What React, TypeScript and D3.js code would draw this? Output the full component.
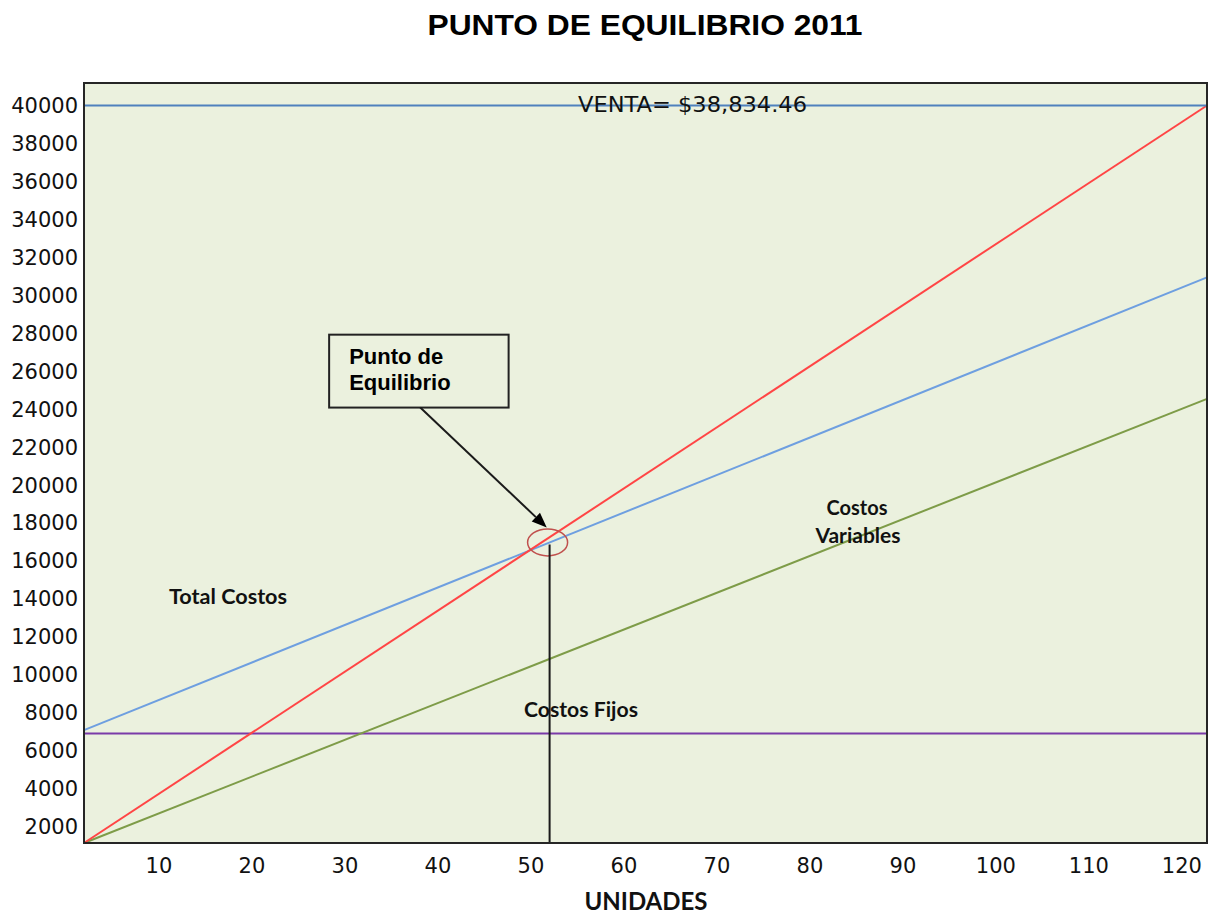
import React from "react";
import * as d3 from "d3";

// ---- data ----
const unidades = [1.94, 122.7];            // x extent where the lines run
const ventas = [1132, 40000];               // red
const costosTotales = [7079, 30937];        // blue
const costosVariables = [1132, 24537];      // green
const costosFijos = 6905;                   // purple horizontal
const ventaTotal = 40000;                   // steel-blue horizontal
const equilibrio = { unidades: 51.9, valor: 16974 };
const yTicks = [2000, 4000, 6000, 8000, 10000, 12000, 14000, 16000, 18000, 20000, 22000, 24000, 26000, 28000, 30000, 32000, 34000, 36000, 38000, 40000];
const xTicks = [10, 20, 30, 40, 50, 60, 70, 80, 90, 100, 110, 120];
const xDomain = [1.94, 122.7];
const yDomain = [1132, 41184];

const W = 1210, H = 915;
const M = { left: 84, right: 1207, top: 83, bottom: 843 };

export default function App() {
  const x = d3.scaleLinear().domain(xDomain).range([M.left, M.right]);
  const y = d3.scaleLinear().domain(yDomain).range([M.bottom, M.top]);
  const line = d3.line<[number, number]>().x(d => x(d[0])).y(d => y(d[1]));
  const pts = (vals: number[]) => unidades.map((u, i) => [u, vals[i]] as [number, number]);

  const ex = x(equilibrio.unidades), ey = y(equilibrio.valor);
  // annotation box in data coords
  const box = { x0: 28.3, y0: 27921, x1: 47.6, y1: 24079 };
  const arrow = { u0: 38.1, v0: 24079, u1: 51.7, v1: 17763 };
  const ax0 = x(arrow.u0), ay0 = y(arrow.v0), ax1 = x(arrow.u1), ay1 = y(arrow.v1);
  const ang = Math.atan2(ay1 - ay0, ax1 - ax0);
  const hl = 15, hw = 6;
  const bx = ax1 - hl * Math.cos(ang), by = ay1 - hl * Math.sin(ang);
  const head = `M${ax1},${ay1} L${bx + hw * Math.sin(ang)},${by - hw * Math.cos(ang)} L${bx - hw * Math.sin(ang)},${by + hw * Math.cos(ang)} Z`;

  const labelFont = "Lato, 'Open Sans', sans-serif";
  return (
    <svg width={W} height={H} style={{ position: "absolute", left: 0, top: 0, background: "#fff" }}>
      <text x={645} y={35} textAnchor="middle" fontFamily="'Liberation Sans', Arial, sans-serif" fontWeight="bold" fontSize={29} textLength={435} lengthAdjust="spacingAndGlyphs" fill="#000">PUNTO DE EQUILIBRIO 2011</text>

      <rect x={M.left} y={M.top} width={M.right - M.left} height={M.bottom - M.top} fill="#EBF1DE" />

      {/* lines */}
      <line x1={M.left} x2={M.right} y1={y(costosFijos)} y2={y(costosFijos)} stroke="#7A3AA8" strokeWidth={2} />
      <path d={line(pts(costosVariables)) || ""} fill="none" stroke="#7E9C48" strokeWidth={2} />
      <path d={line(pts(costosTotales)) || ""} fill="none" stroke="#6E9FE0" strokeWidth={2} />
      <path d={line(pts(ventas)) || ""} fill="none" stroke="#FF4545" strokeWidth={2} />
      <line x1={M.left} x2={M.right} y1={y(ventaTotal)} y2={y(ventaTotal)} stroke="#4F81BD" strokeWidth={2} />

      {/* equilibrium marker */}
      <ellipse cx={ex - 1} cy={ey} rx={20} ry={13.5} fill="none" stroke="#C0504D" strokeWidth={1.5} />
      <line x1={ex + 1} x2={ex + 1} y1={ey + 2} y2={M.bottom} stroke="#1a1a1a" strokeWidth={2} />

      {/* annotation box */}
      <rect x={x(box.x0)} y={y(box.y0)} width={x(box.x1) - x(box.x0)} height={y(box.y1) - y(box.y0)} fill="#EBF1DE" stroke="#222" strokeWidth={2} />
      <text x={x(box.x0) + 20} y={y(box.y0) + 29} fontFamily="'Liberation Sans', Arial, sans-serif" fontWeight="bold" fontSize={22} fill="#000">Punto de</text>
      <text x={x(box.x0) + 20} y={y(box.y0) + 55} fontFamily="'Liberation Sans', Arial, sans-serif" fontWeight="bold" fontSize={22} fill="#000">Equilibrio</text>
      <line x1={ax0} y1={ay0} x2={bx} y2={by} stroke="#1a1a1a" strokeWidth={2} />
      <path d={head} fill="#000" />

      {/* text labels */}
      <text x={578} y={112} fontFamily="'DejaVu Sans', Verdana, sans-serif" fontSize={22} textLength={229} lengthAdjust="spacingAndGlyphs" fill="#111">VENTA= $38,834.46</text>
      <text x={169} y={604} fontFamily={labelFont} fontWeight="bold" fontSize={21} textLength={118} lengthAdjust="spacingAndGlyphs" fill="#111">Total Costos</text>
      <text x={524} y={717} fontFamily={labelFont} fontWeight="bold" fontSize={20} textLength={114} lengthAdjust="spacingAndGlyphs" fill="#111">Costos Fijos</text>
      <text x={857} y={515} textAnchor="middle" fontFamily={labelFont} fontWeight="bold" fontSize={20} fill="#111">Costos</text>
      <text x={858} y={543} textAnchor="middle" fontFamily={labelFont} fontWeight="bold" fontSize={21} fill="#111">Variables</text>

      {/* frame */}
      <rect x={M.left} y={M.top} width={M.right - M.left} height={M.bottom - M.top} fill="none" stroke="#262626" strokeWidth={2} />

      {/* y axis labels */}
      {yTicks.map(t => (
        <text key={t} x={78} y={y(t)} dy="0.36em" textAnchor="end" fontFamily="'DejaVu Sans', Verdana, sans-serif" fontSize={21} fill="#111">{t}</text>
      ))}
      {/* x axis labels */}
      {xTicks.map(t => (
        <text key={t} x={x(t)} y={873} textAnchor="middle" fontFamily="'DejaVu Sans', Verdana, sans-serif" fontSize={21} fill="#111">{t}</text>
      ))}
      <text x={646} y={910} textAnchor="middle" fontFamily={labelFont} fontWeight="bold" fontSize={24} fill="#111">UNIDADES</text>
    </svg>
  );
}
